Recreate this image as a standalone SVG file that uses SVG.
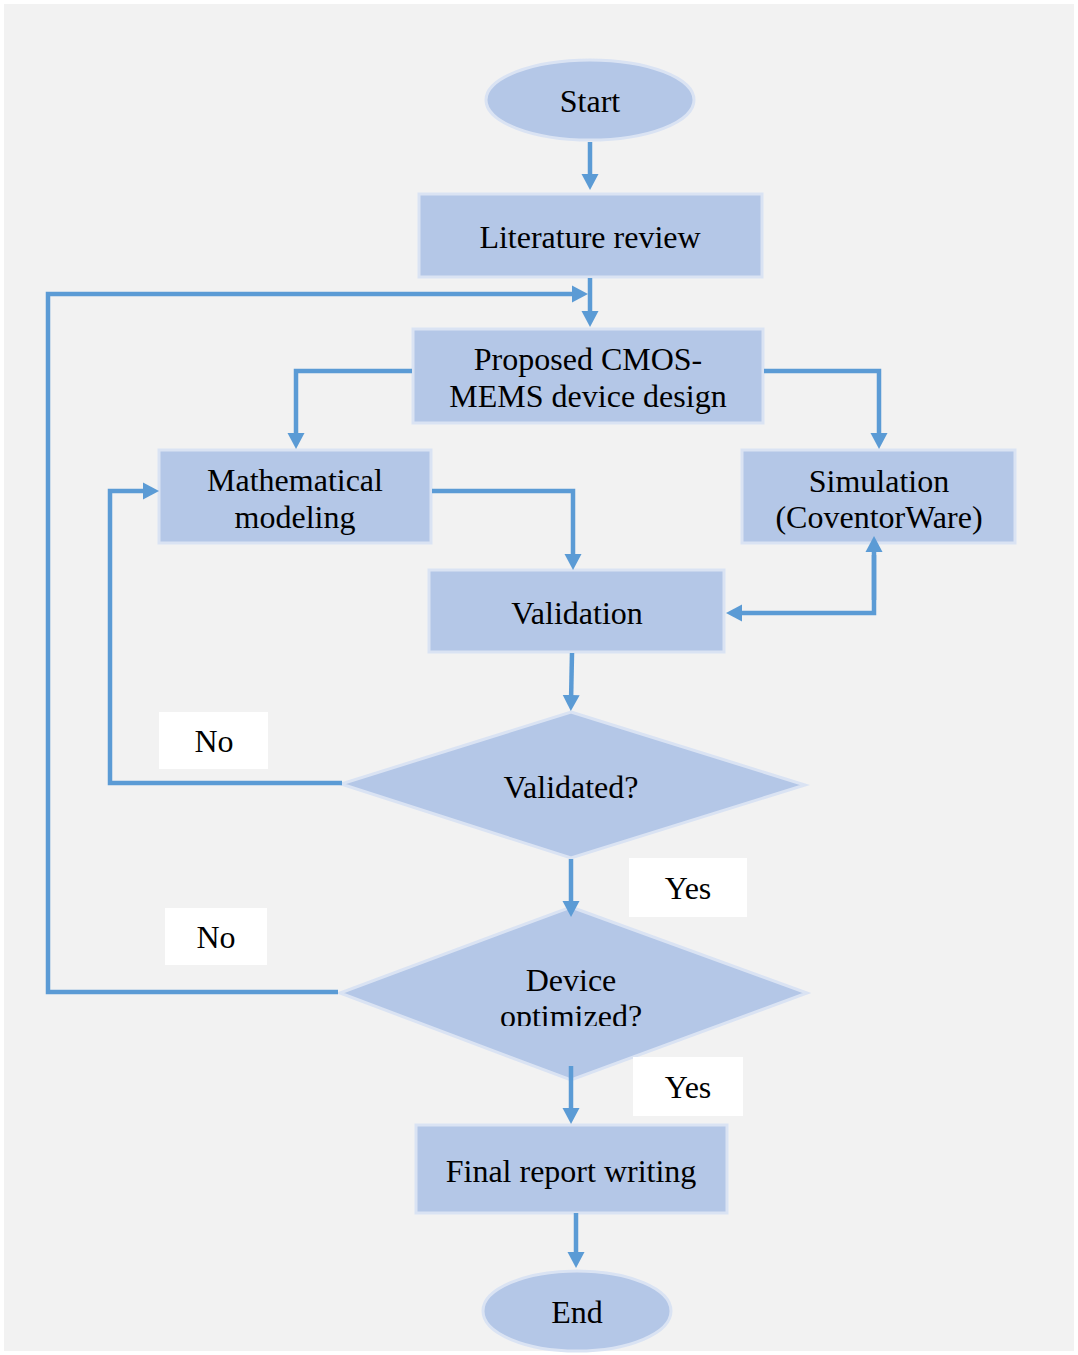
<svg xmlns="http://www.w3.org/2000/svg" width="1078" height="1355" viewBox="0 0 1078 1355">
<defs>
<style>
.n{fill:#b4c7e7;stroke:#dae3f3;stroke-width:3}
.t{font-family:"Liberation Serif","Times New Roman",serif;font-size:32px;fill:#000;text-anchor:middle}
.lb{fill:#ffffff}
.c{fill:none;stroke:#5b9bd5;stroke-width:4.5}
</style>
<marker id="ah" viewBox="0 -9 18 18" markerWidth="18" markerHeight="18" refX="7" refY="0" orient="auto" markerUnits="userSpaceOnUse">
<path d="M0,-8.5 L16,0 L0,8.5 z" fill="#5b9bd5"/>
</marker>
<clipPath id="clipDev"><rect x="400" y="950" width="340" height="76"/></clipPath>
</defs>
<rect x="0" y="0" width="1078" height="1355" fill="#ffffff"/>
<rect x="4" y="4" width="1070" height="1347" fill="#f2f2f2"/>

<g id="start"><ellipse class="n" cx="590" cy="100" rx="104" ry="40"/><text class="t" x="590" y="112">Start</text></g>
<g id="literature"><rect class="n" x="419" y="194" width="343" height="83"/><text class="t" x="590" y="248">Literature review</text></g>
<g id="proposed"><rect class="n" x="413" y="329" width="350" height="94"/><text class="t" x="588" y="370">Proposed CMOS-</text><text class="t" x="588" y="407">MEMS device design</text></g>
<g id="math"><rect class="n" x="159" y="450" width="272" height="93"/><text class="t" x="295" y="491">Mathematical</text><text class="t" x="295" y="528">modeling</text></g>
<g id="simulation"><rect class="n" x="742" y="450" width="273" height="93"/><text class="t" x="879" y="492">Simulation</text><text class="t" x="879" y="528">(CoventorWare)</text></g>
<g id="validation"><rect class="n" x="429" y="570" width="295" height="82"/><text class="t" x="577" y="624">Validation</text></g>
<g id="validated"><polygon class="n" points="571,712 805,785 571,858 341,784"/><text class="t" x="571" y="798">Validated?</text></g>
<g id="device"><polygon class="n" points="571,907 807,993 571,1080 340,993"/><text class="t" x="571" y="991">Device</text><text class="t" x="571" y="1027" clip-path="url(#clipDev)">optimized?</text></g>
<g id="final"><rect class="n" x="416" y="1125" width="311" height="88"/><text class="t" x="571" y="1182">Final report writing</text></g>
<g id="end"><ellipse class="n" cx="577" cy="1311" rx="94" ry="40"/><text class="t" x="577" y="1323">End</text></g>

<g id="connectors">
<path class="c" d="M590,142 V181" marker-end="url(#ah)"/>
<path class="c" d="M590,278 V318" marker-end="url(#ah)"/>
<path class="c" d="M338,992 H48 V294 H579" marker-end="url(#ah)"/>
<path class="c" d="M412,371 H296 V440" marker-end="url(#ah)"/>
<path class="c" d="M764,371 H879 V440" marker-end="url(#ah)"/>
<path class="c" d="M432,491 H573 V561" marker-end="url(#ah)"/>
<path class="c" d="M874,555 V613 H735" marker-end="url(#ah)"/>
<path class="c" d="M874,600 V545" marker-end="url(#ah)"/>
<path class="c" d="M572,653 L571,702" marker-end="url(#ah)"/>
<path class="c" d="M342,783 H110 V491 H150" marker-end="url(#ah)"/>
<path class="c" d="M571,859 V908" marker-end="url(#ah)"/>
<path class="c" d="M571,1066 V1115" marker-end="url(#ah)"/>
<path class="c" d="M576,1213 V1259" marker-end="url(#ah)"/>
</g>

<g id="label-no1"><rect class="lb" x="159" y="712" width="109" height="57"/><text class="t" x="214" y="752">No</text></g>
<g id="label-yes1"><rect class="lb" x="629" y="858" width="118" height="59"/><text class="t" x="688" y="899">Yes</text></g>
<g id="label-no2"><rect class="lb" x="165" y="908" width="102" height="57"/><text class="t" x="216" y="948">No</text></g>
<g id="label-yes2"><rect class="lb" x="633" y="1057" width="110" height="59"/><text class="t" x="688" y="1098">Yes</text></g>
</svg>
